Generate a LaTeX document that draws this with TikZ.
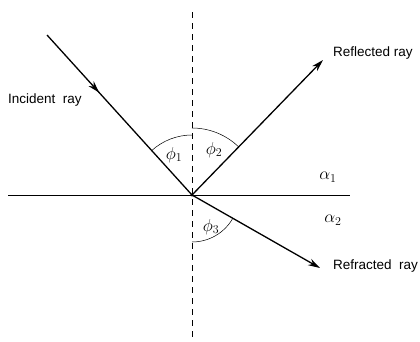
\documentclass[tikz,border=0pt]{standalone}
\usepackage{fontspec}
\setmainfont{Liberation Sans}
\usetikzlibrary{angles,decorations.markings,arrows.meta}
\begin{document}
\begin{tikzpicture}[x=1pt,y=-1pt,
  ray/.style={line width=1.3pt},
  rayarrow/.style={-{Stealth[length=12pt,width=7pt]}},
  angarc/.style={draw,line width=0.5pt},
  lbl/.style={font=\fontsize{13.5}{15}\selectfont,inner sep=0pt},
  sym/.style={inner sep=0pt,font=\fontsize{17}{19}\selectfont}]
\useasboundingbox (0,0) rectangle (420,341);
\clip (0,0) rectangle (420,341);
\coordinate (O) at (192,195);
\coordinate (A) at (47,35);
\coordinate (B) at (323,60);
\coordinate (C) at (320,268);
\coordinate (T) at (192,12);
\coordinate (D) at (192,337);
\coordinate (L) at (8,195);
\coordinate (R) at (350,195);
% surface and normal
\draw[line width=1pt] (L) -- (R);
\draw[line width=1pt,dash pattern=on 6pt off 5pt] (T) -- (D);
% angles
\path pic[angarc,angle radius=60pt] {angle=T--O--A};
\path pic[angarc,angle radius=67pt] {angle=B--O--T};
\path pic[angarc,angle radius=47pt] {angle=D--O--C};
% rays
\draw[ray,postaction={decorate},decoration={markings,
  mark=at position 0.36 with {\arrow{Stealth[length=12pt,width=7pt]}}}] (A) -- (O);
\draw[ray,rayarrow] (O) -- (B);
\draw[ray,rayarrow] (O) -- (C);
\fill (O) circle (1.6pt);
% labels
\node[lbl,anchor=west] (li) at (8,100) {Incident\ \ ray};
\node[lbl,anchor=west] (lr) at (333,53) {Reflected ray};
\node[lbl,anchor=west] (lf) at (333,266) {Refracted\ \ ray};
\node[sym] (p1) at (174,155) {$\phi_1$};
\node[sym] (p2) at (214,150) {$\phi_2$};
\node[sym] (p3) at (211,227) {$\phi_3$};
\node[sym] (a1) at (328,177) {$\alpha_1$};
\node[sym] (a2) at (333,220) {$\alpha_2$};
\end{tikzpicture}
\end{document}
